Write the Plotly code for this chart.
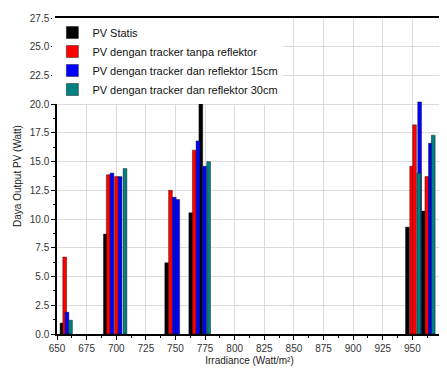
import plotly.graph_objects as go

# Series names
names = ["PV Statis",
         "PV dengan tracker tanpa reflektor",
         "PV dengan tracker dan reflektor 15cm",
         "PV dengan tracker dan reflektor 30cm"]
colors = ["#000000", "#ff0000", "#0000ff", "#008080"]

# Irradiance (x) and output power (y) for each series
statis_x = [654.2, 690.8, 742.6, 762.9, 771.4, 945.8, 959.4]
statis_y = [0.95, 8.7, 6.2, 10.55, 20.5, 9.3, 10.7]

tanpa_x = [656.5, 693.3, 700.2, 745.8, 765.9, 949.4, 951.8, 962.2]
tanpa_y = [6.7, 13.85, 13.7, 12.5, 16.0, 14.6, 18.2, 13.7]

ref15_x = [658.4, 696.4, 703.2, 749.0, 751.9, 769.0, 774.6, 956.1, 965.2]
ref15_y = [1.9, 14.0, 13.7, 11.9, 11.7, 16.8, 14.6, 20.2, 16.6]

ref30_x = [661.4, 707.4, 778.0, 955.5, 967.6]
ref30_y = [1.2, 14.4, 15.0, 14.0, 17.3]

x_ticks = [650, 675, 700, 725, 750, 775, 800, 825, 850, 875, 900, 925, 950, 975]
y_ticks = [0.0, 2.5, 5.0, 7.5, 10.0, 12.5, 15.0, 17.5, 20.0, 22.5, 25.0, 27.5]

series_x = [statis_x, tanpa_x, ref15_x, ref30_x]
series_y = [statis_y, tanpa_y, ref15_y, ref30_y]

fig = go.Figure()
for nm, c, xs, ys in zip(names, colors, series_x, series_y):
    fig.add_trace(go.Bar(x=xs, y=ys, name=nm, width=3.2,
                         marker=dict(color=c, line=dict(color="#000000", width=0.4))))

axis_common = dict(showline=True, linecolor="#000000", linewidth=1.5, mirror=True,
                   ticks="outside", ticklen=4, tickwidth=1, tickcolor="#000000",
                   showgrid=True, gridcolor="#dcdcdc", gridwidth=1, zeroline=False,
                   automargin=False,
                   tickfont=dict(family="Liberation Sans, Arial", size=10, color="#333333"))

# page body has an 8px margin, so the figure is sized/offset to compensate
fig.update_layout(
    width=439, height=366,
    margin=dict(l=49, r=5, t=10, b=40),
    paper_bgcolor="#ffffff", plot_bgcolor="#ffffff",
    barmode="overlay",
    font=dict(family="Liberation Sans, Arial", size=10, color="#222222"),
    xaxis=dict(range=[650, 975], tickvals=x_ticks, ticktext=[str(v) for v in x_ticks],
               minor=dict(dtick=12.5, tick0=650, ticks="outside", ticklen=2, tickcolor="#000000", showgrid=False),
               title=dict(text="Irradiance (Watt/m²)", font=dict(size=10), standoff=4),
               **axis_common),
    yaxis=dict(range=[0, 27.5], tickvals=y_ticks, ticktext=[f"{v:.1f}" for v in y_ticks],
               minor=dict(dtick=1.25, tick0=0, ticks="outside", ticklen=2, tickcolor="#000000", showgrid=False),
               title=dict(text="Daya Output PV (Watt)", font=dict(size=10), standoff=6),
               **axis_common),
    legend=dict(x=-0.012, y=1.0, xanchor="left", yanchor="top",
                bgcolor="#ffffff", borderwidth=0,
                font=dict(family="Liberation Sans, Arial", size=11, color="#111111"),
                tracegroupgap=0, itemwidth=30),
    showlegend=True,
)

fig.write_html("out.html")
